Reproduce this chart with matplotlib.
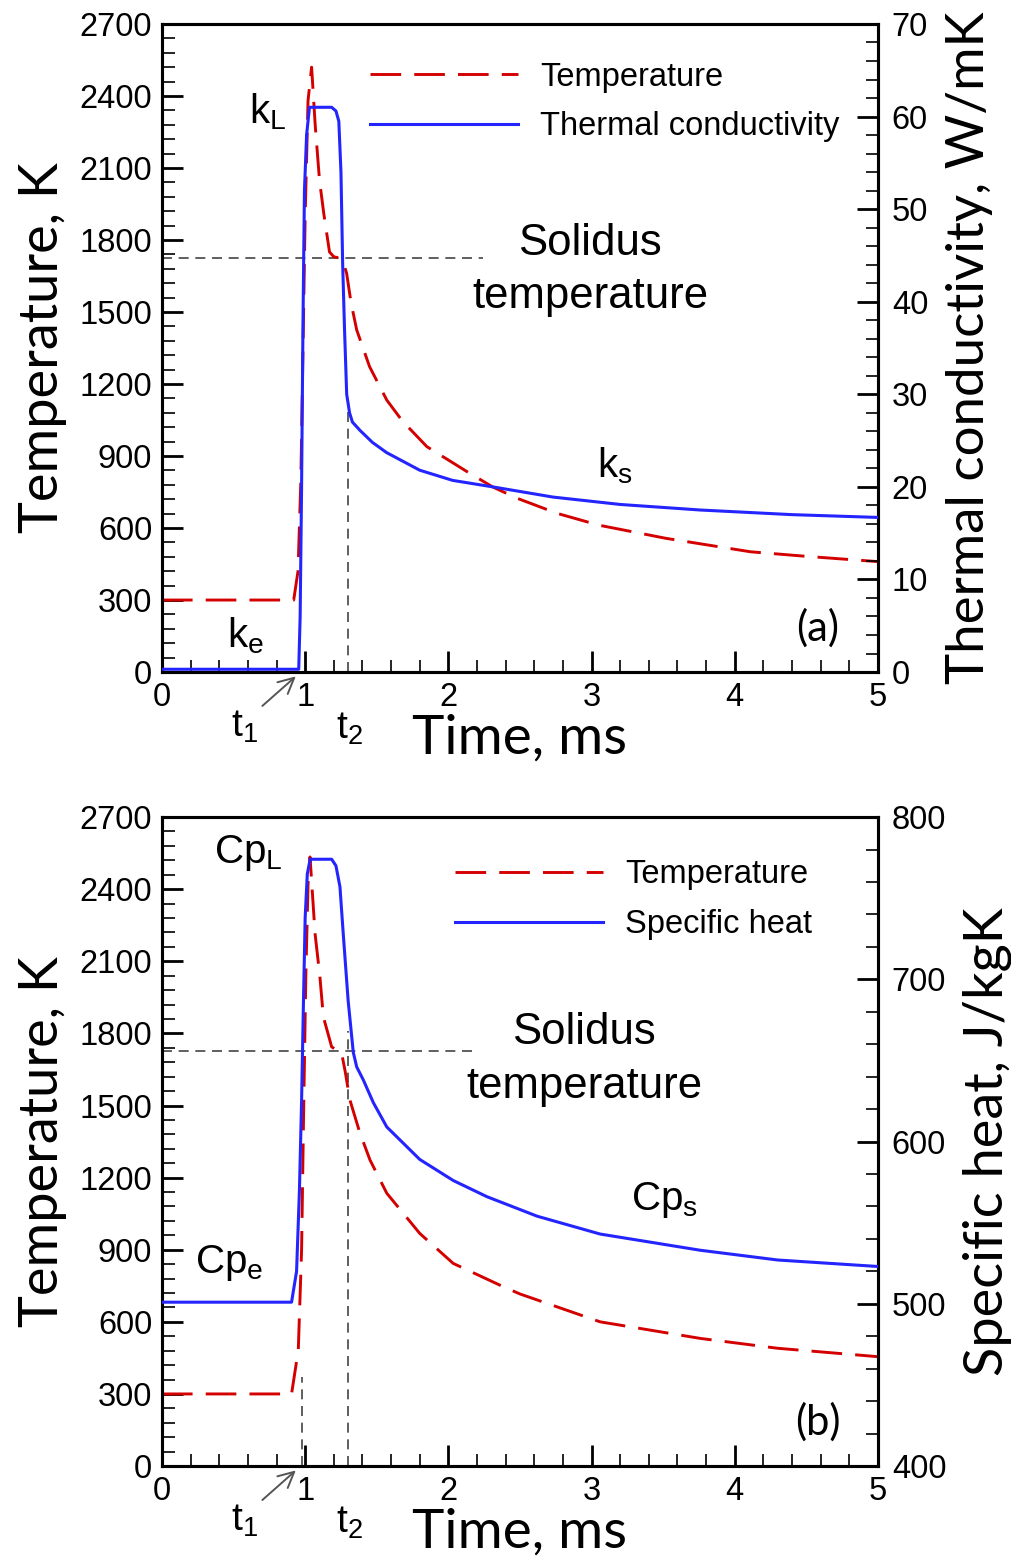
import numpy as np
import matplotlib
matplotlib.use('Agg')
import matplotlib.pyplot as plt
from matplotlib.ticker import MultipleLocator

# ---- values ----
# (a) temperature [K] vs time [ms]
ta_temp = [0, 0.92, 0.95, 0.97, 0.985, 1.0, 1.02, 1.045, 1.07, 1.10, 1.13, 1.17,
           1.20, 1.24, 1.27, 1.29, 1.32, 1.36, 1.45, 1.57, 1.68, 1.85, 2.13, 2.31,
           2.48, 2.76, 3.05, 3.52, 4.11, 4.5, 5.0]
temp_a = [300, 300, 420, 800, 1350, 1900, 2380, 2520, 2280, 2050, 1910, 1750,
          1730, 1725, 1700, 1660, 1540, 1425, 1272, 1133, 1045, 939, 835, 771,
          724, 661, 612, 557, 501, 482, 460]
# (a) thermal conductivity [W/mK]
ta_k = [0, 0.955, 0.965, 0.975, 0.985, 0.995, 1.01, 1.03, 1.185, 1.215, 1.235,
        1.25, 1.262, 1.275, 1.29, 1.31, 1.33, 1.383, 1.47, 1.569, 1.80, 2.03,
        2.31, 2.73, 3.2, 3.76, 4.4, 5.0]
k_a = [0.3, 0.3, 6, 20, 38, 52, 58, 61, 61, 60.6, 59.5, 54, 44, 37, 30, 28.0,
       27.0, 26.1, 24.8, 23.7, 21.8, 20.7, 20.0, 18.9, 18.1, 17.5, 17.0, 16.7]

# (b) temperature [K]
tb_temp = [0, 0.905, 0.952, 0.975, 0.99, 1.005, 1.02, 1.034, 1.069, 1.103, 1.127,
           1.185, 1.22, 1.255, 1.28, 1.313, 1.38, 1.453, 1.57, 1.80, 2.034, 2.384,
           2.5, 3.06, 3.76, 4.3, 5.0]
temp_b = [300, 300, 482, 898, 1500, 2050, 2420, 2534, 2216, 2035, 1869, 1744,
          1730, 1717, 1640, 1522, 1390, 1273, 1135, 968, 843, 746, 716, 600, 531,
          490, 455]
# (b) specific heat [J/kgK]
tb_cp = [0, 0.905, 0.94, 0.96, 0.975, 0.987, 1.0, 1.015, 1.035, 1.185, 1.215,
         1.243, 1.266, 1.30, 1.336, 1.36, 1.406, 1.476, 1.57, 1.80, 2.034, 2.27,
         2.62, 3.06, 3.76, 4.3, 5.0]
cp_b = [501, 501, 520, 570, 625, 681, 738, 765, 774, 774, 770, 757, 728, 687,
        655, 646, 638, 624, 609, 589, 576, 566, 554, 543, 533, 527, 523]

T_SOLIDUS = 1725
T1, T2 = 0.975, 1.30

RED = '#d40000'
BLUE = '#2424ff'
GREY = '#444444'
ARIAL = 'Liberation Sans'
CALIBRI = 'Lato'

plt.rcParams['font.family'] = ARIAL
plt.rcParams['mathtext.default'] = 'regular'

fig = plt.figure(figsize=(10.11, 15.56), dpi=100)

RED_DASH = (0, (10.5, 4.5))
GREY_DASH = (0, (6, 4))


def style_axis(ax, side):
    ax.tick_params(which='major', direction='in', length=15, width=2,
                   labelsize=23.5, pad=7)
    ax.tick_params(which='minor', direction='in', length=9, width=1.2)
    if side == 'left':
        ax.tick_params(which='both', top=False, right=False, left=True, bottom=True)
    else:
        ax.tick_params(which='both', top=False, left=False, right=True,
                       labelright=True, pad=10)
    for s in ax.spines.values():
        s.set_linewidth(2.2)


def panel(rect, t_temp, temp, t_prop, prop, prop_lim, prop_major, prop_minor,
          prop_label, right_label_x, right_label_fs, legend_label,
          legend_anchor, tag, texts, t2_top, solidus_end, t1_top=None):
    ax = fig.add_axes(rect)
    ax2 = ax.twinx()

    ax.plot(t_temp, temp, color=RED, lw=2.1, linestyle=RED_DASH, zorder=3)
    ax2.plot(t_prop, prop, color=BLUE, lw=2.2, zorder=3)

    # solidus level and t1/t2 markers
    ax.plot([0, solidus_end], [T_SOLIDUS, T_SOLIDUS], color=GREY, lw=1.2,
            linestyle=GREY_DASH)
    ax.plot([T2, T2], [0, t2_top], color=GREY, lw=1.2, linestyle=GREY_DASH)
    if t1_top is not None:
        ax.plot([T1, T1], [0, t1_top], color=GREY, lw=1.2, linestyle=GREY_DASH)

    ax.set_xlim(0, 5)
    ax.set_ylim(0, 2700)
    ax.xaxis.set_major_locator(MultipleLocator(1))
    ax.xaxis.set_minor_locator(MultipleLocator(0.2))
    ax.yaxis.set_major_locator(MultipleLocator(300))
    ax.yaxis.set_minor_locator(MultipleLocator(60))
    ax2.set_ylim(*prop_lim)
    ax2.yaxis.set_major_locator(MultipleLocator(prop_major))
    ax2.yaxis.set_minor_locator(MultipleLocator(prop_minor))
    style_axis(ax, 'left')
    style_axis(ax2, 'right')

    ax.set_ylabel('Temperature, K', fontsize=39, family=CALIBRI)
    ax.yaxis.set_label_coords(-0.133, 0.5)
    ax.set_xlabel('Time, ms', fontsize=39.5, family=CALIBRI, va='top')
    ax.xaxis.set_label_coords(0.5, -0.064)
    ax2.set_ylabel(prop_label, fontsize=right_label_fs, family=CALIBRI)
    ax2.yaxis.set_label_coords(right_label_x, 0.5)

    # legend
    h1, = ax.plot([], [], color=RED, lw=2.1, linestyle=RED_DASH)
    h2, = ax2.plot([], [], color=BLUE, lw=2.2)
    ax2.legend([h1, h2], ['Temperature', legend_label], loc='upper left',
               bbox_to_anchor=legend_anchor, frameon=False, fontsize=23.5,
               handlelength=4.55, handletextpad=0.67, labelspacing=0.58,
               borderpad=0, borderaxespad=0)

    for (x, y, s, fs, fam) in texts:
        ax.text(x, y, s, fontsize=fs, family=fam, ha='center', va='center',
                linespacing=1.4)
    ax.text(4.58, 183, tag, fontsize=30, family=CALIBRI, ha='center',
            va='center')

    ax.annotate('$t_1$', xy=(0.935, -18), xytext=(0.58, -228),
                fontsize=28, ha='center', va='center', annotation_clip=False,
                arrowprops=dict(arrowstyle='->', color='#555555', lw=1.4,
                                shrinkA=1, shrinkB=0, relpos=(0.8, 0.85)))
    ax.text(1.31, -235, '$t_2$', fontsize=28, ha='center', va='center')
    return ax, ax2


panel([0.1602, 0.5681, 0.7082, 0.4165], ta_temp, temp_a, ta_k, k_a,
      (0, 70), 10, 2, 'Thermal conductivity, W/mK', 1.095, 38,
      'Thermal conductivity', (0.29, 0.942), '(a)',
      [(0.74, 2335, '$k_L$', 29, ARIAL),
       (0.58, 150, '$k_e$', 29, ARIAL),
       (3.16, 860, '$k_s$', 29, ARIAL),
       (2.99, 1675, 'Solidus\ntemperature', 31.5, ARIAL)],
      t2_top=1090, solidus_end=2.24)

panel([0.1602, 0.0578, 0.7082, 0.4171], tb_temp, temp_b, tb_cp, cp_b,
      (400, 800), 100, 20, 'Specific heat, J/kgK', 1.118, 39,
      'Specific heat', (0.409, 0.935), '(b)',
      [(0.60, 2550, '$Cp_L$', 29, ARIAL),
       (0.47, 845, '$Cp_e$', 29, ARIAL),
       (3.51, 1105, '$Cp_s$', 29, ARIAL),
       (2.95, 1692, 'Solidus\ntemperature', 31.5, ARIAL)],
      t2_top=1810, solidus_end=2.19, t1_top=370)

fig.savefig('out.png', dpi=100)
